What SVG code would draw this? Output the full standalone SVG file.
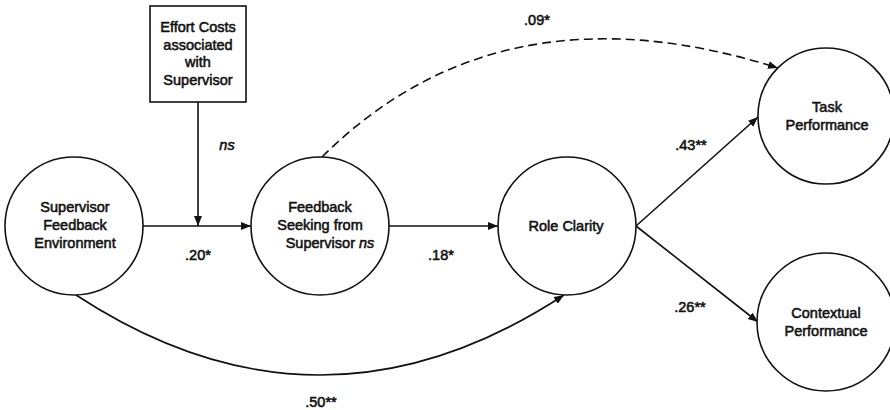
<svg xmlns="http://www.w3.org/2000/svg" width="890" height="410" viewBox="0 0 890 410">
<style>
.node circle, .node rect { fill: #fff; stroke: #111; stroke-width: 1.6; }
text { font-family: "Liberation Sans", Arial, sans-serif; font-size: 14.5px; fill: #111; stroke: #111; stroke-width: 0.55; text-anchor: middle; }
.it { font-style: italic; }
.edge { fill: none; stroke: #111; stroke-width: 1.6; }
.dash { stroke-dasharray: 9 5; }
</style>
<defs>
<marker id="arr" markerUnits="userSpaceOnUse" markerWidth="12" markerHeight="10" refX="10" refY="4" orient="auto">
<path d="M0,0 L10,4 L0,8 Z" fill="#111"/>
</marker>
</defs>
<rect width="890" height="410" fill="#fff"/>
<g id="connectors">
<path class="edge" d="M198,102 L198,226" marker-end="url(#arr)"/>
<path class="edge" d="M143,226 L251,226" marker-end="url(#arr)"/>
<path class="edge" d="M389,226 L498,226" marker-end="url(#arr)"/>
<path class="edge" d="M636,226 L758,117" marker-end="url(#arr)"/>
<path class="edge" d="M636,226 L758,322" marker-end="url(#arr)"/>
<path class="edge dash" d="M322,157 Q500,-20 778,68" marker-end="url(#arr)"/>
<path class="edge" d="M76,295 Q320,455 564,295" marker-end="url(#arr)"/>
<text class="it" x="227" y="150">ns</text>
<text x="198" y="260">.20*</text>
<text x="441" y="260">.18*</text>
<text x="537" y="25">.09*</text>
<text x="691" y="150">.43**</text>
<text x="690" y="312">.26**</text>
<text x="321" y="407">.50**</text>
</g>
<g id="effort" class="node">
<rect x="150" y="6" width="96" height="96"/>
<text x="198" y="32">Effort Costs</text>
<text x="198" y="50">associated</text>
<text x="198" y="67">with</text>
<text x="198" y="85">Supervisor</text>
</g>
<g id="sfe" class="node">
<circle cx="74" cy="226" r="69"/>
<text x="75" y="212">Supervisor</text>
<text x="75" y="230">Feedback</text>
<text x="75" y="248">Environment</text>
</g>
<g id="fss" class="node">
<circle cx="320" cy="226" r="69"/>
<text x="320" y="212">Feedback</text>
<text x="320" y="230">Seeking from</text>
<text x="330" y="248">Supervisor <tspan class="it">ns</tspan></text>
</g>
<g id="rc" class="node">
<circle cx="567" cy="226" r="69"/>
<text x="566" y="231">Role Clarity</text>
</g>
<g id="task" class="node">
<circle cx="826" cy="116" r="68"/>
<text x="827" y="112">Task</text>
<text x="827" y="130">Performance</text>
</g>
<g id="ctx" class="node">
<circle cx="826" cy="322" r="69"/>
<text x="826" y="318">Contextual</text>
<text x="826" y="336">Performance</text>
</g>
</svg>
